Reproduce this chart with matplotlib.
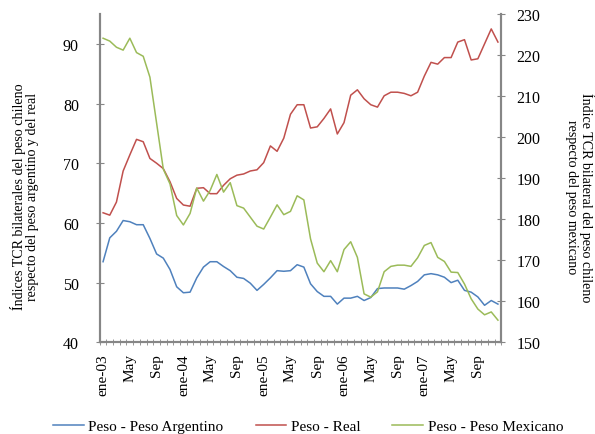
import numpy as np
import matplotlib.pyplot as plt

plt.rcParams['font.family'] = ['Liberation Serif', 'DejaVu Serif']

# indices monthly, ene-03 .. dic-07
argentino = [53.5, 57.5, 58.6, 60.4, 60.2, 59.7, 59.7, 57.4, 54.8, 54.1,
             52.2, 49.3, 48.3, 48.4, 50.8, 52.6, 53.5, 53.5, 52.7, 52.0,
             50.9, 50.7, 49.9, 48.7, 49.7, 50.8, 52.0, 51.9, 52.0, 53.0,
             52.6, 49.8, 48.5, 47.7, 47.7, 46.4, 47.4, 47.4, 47.7, 47.0,
             47.5, 49.0, 49.1, 49.1, 49.1, 48.9, 49.5, 50.2, 51.3, 51.5,
             51.3, 50.9, 50.0, 50.4, 48.7, 48.4, 47.6, 46.2, 47.0, 46.4]

real = [61.7, 61.3, 63.5, 68.7, 71.4, 74.0, 73.6, 70.8, 70.0, 69.1,
        66.9, 64.1, 63.0, 62.8, 65.8, 65.9, 64.9, 64.9, 66.3, 67.4,
        68.0, 68.2, 68.7, 68.9, 70.1, 72.9, 72.0, 74.2, 78.2, 79.8,
        79.8, 75.9, 76.1, 77.5, 79.1, 74.9, 76.8, 81.4, 82.3, 80.8,
        79.8, 79.4, 81.3, 81.9, 81.9, 81.7, 81.3, 81.9, 84.6, 86.9,
        86.6, 87.7, 87.7, 90.3, 90.7, 87.3, 87.5, 90.0, 92.5, 90.3]

mexicano = [224.1, 223.4, 221.9, 221.2, 224.1, 220.6, 219.7, 214.6, 203.4, 192.2,
            188.6, 180.9, 178.6, 181.4, 187.6, 184.4, 187.0, 190.9, 186.6, 188.9,
            183.3, 182.7, 180.5, 178.3, 177.6, 180.5, 183.5, 181.1, 181.9, 185.7,
            184.7, 175.2, 169.3, 167.2, 169.9, 167.2, 172.6, 174.5, 170.7, 161.8,
            161.0, 162.3, 167.2, 168.5, 168.8, 168.8, 168.5, 170.6, 173.6, 174.3,
            170.7, 169.7, 167.1, 167.0, 164.2, 160.6, 158.1, 156.7, 157.4, 155.4]

tick_labels = ['ene-03', 'May', 'Sep', 'ene-04', 'May', 'Sep', 'ene-05', 'May', 'Sep',
               'ene-06', 'May', 'Sep', 'ene-07', 'May', 'Sep']

x = np.arange(len(real))
grey = '#868686'

fig = plt.figure(figsize=(5.95, 4.35), dpi=100)
ax = fig.add_axes([0.1676, 0.2108, 0.6749, 0.7547])
ax2 = ax.twinx()

l1, = ax.plot(x, argentino, color='#4F81BD', lw=1.1)
l2, = ax.plot(x, real, color='#C0504D', lw=1.1)
l3, = ax2.plot(x, mexicano, color='#9BBB59', lw=1.1)

ax.set_xlim(-0.5, len(real) - 0.5)
ax.set_ylim(40, 95)
ax.set_yticks(np.arange(40, 91, 10))
ax2.set_ylim(150, 230)
ax2.set_yticks(np.arange(150, 231, 10))

ax.set_xticks(np.arange(0, len(real), 4))
ax.set_xticklabels(tick_labels, rotation=90)
ax.set_xticks(np.arange(-0.5, len(real), 1), minor=True)
ax.tick_params(axis='x', which='major', length=0, pad=8, labelsize=11)
ax.tick_params(axis='x', which='minor', direction='inout', length=5, color=grey)

ax.tick_params(axis='y', direction='inout', length=6, color=grey, labelsize=11.5, pad=12)
ax2.tick_params(axis='y', direction='inout', length=6, color=grey, labelsize=11.5, pad=8)

for a in (ax, ax2):
    a.spines['top'].set_visible(False)
    for s in ('left', 'right', 'bottom'):
        a.spines[s].set_color(grey)
        a.spines[s].set_linewidth(1.5)

# axis titles as figure text so both lines stay centred
fig.text(0.041, 0.547, 'Índices TCR bilaterales del peso chileno\nrespecto del peso argentino y del real',
         rotation=90, ha='center', va='center', multialignment='center',
         fontsize=10.1, linespacing=1.05)
fig.text(0.975, 0.546, 'Índice TCR bilateral del peso chileno\nrespecto del peso mexicano',
         rotation=270, ha='center', va='center', multialignment='center',
         fontsize=10.1, linespacing=1.05)

fig.legend([l1, l2, l3], ['Peso - Peso Argentino', 'Peso - Real', 'Peso - Peso Mexicano'],
           loc='lower center', bbox_to_anchor=(0.518, -0.03), ncol=3, frameon=False,
           fontsize=11, handlelength=2.0, handletextpad=0.3, columnspacing=2.1)

fig.savefig('out.png', dpi=100)
